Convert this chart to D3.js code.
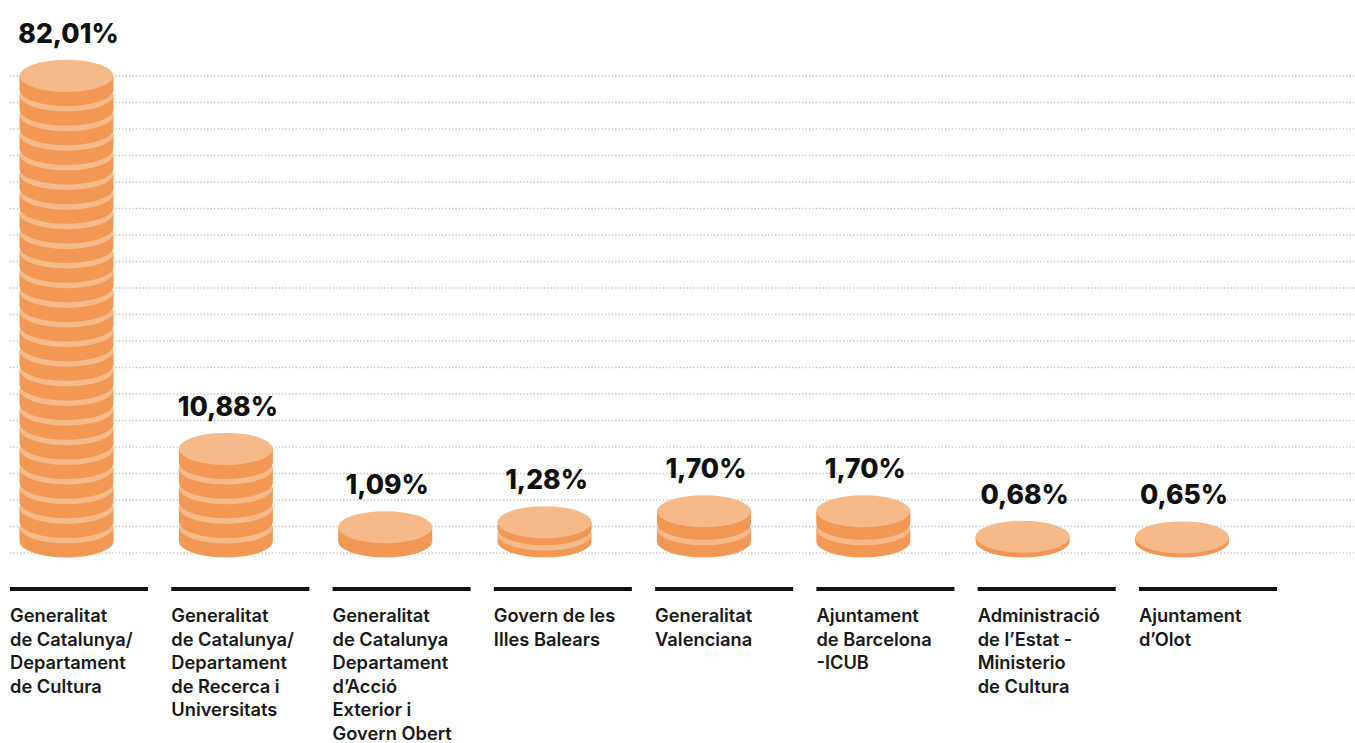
<!DOCTYPE html>
<html>
<head>
<meta charset="utf-8">
<script src="https://cdn.jsdelivr.net/npm/d3@7"></script>
<style>
  html, body { margin: 0; padding: 0; background: #fff; }
  svg { display: block; }
  text { font-family: Inter, 'Noto Sans', sans-serif; }
</style>
</head>
<body>
<div id="vis"></div>
<script>
// data
var categories = ['gencat-cultura', 'gencat-recerca', 'gencat-accio', 'balears', 'valenciana', 'bcn-icub', 'estat', 'olot'];
var labels = [
  ['Generalitat', 'de Catalunya/', 'Departament', 'de Cultura'],
  ['Generalitat', 'de Catalunya/', 'Departament', 'de Recerca i', 'Universitats'],
  ['Generalitat', 'de Catalunya', 'Departament', 'd’Acció', 'Exterior i', 'Govern Obert'],
  ['Govern de les', 'Illes Balears'],
  ['Generalitat', 'Valenciana'],
  ['Ajuntament', 'de Barcelona', '-ICUB'],
  ['Administració', 'de l’Estat -', 'Ministerio', 'de Cultura'],
  ['Ajuntament', 'd’Olot']
];
var values = [82.01, 10.88, 1.09, 1.28, 1.70, 1.70, 0.68, 0.65];
var valueLabels = ['82,01%', '10,88%', '1,09%', '1,28%', '1,70%', '1,70%', '0,68%', '0,65%'];
var coins = [24, 5, 1, 2, 2, 2, 1, 1];

var width = 1355;
var height = 743;

var lightColor = '#f6b989';
var darkColor = '#f29854';

var rx = 47;
var ry = 16;
var gap = 5.5;
var baseY = 541.5; // centre of the lowest coin's bottom edge

var svg = d3.select('#vis').append('svg')
  .attr('width', width)
  .attr('height', height);

// dotted gridlines
var gridY = d3.scaleLinear().domain([0, 18]).range([553, 76]);
svg.append('g')
  .selectAll('line')
  .data(d3.range(19))
  .enter()
  .append('line')
  .attr('x1', 10)
  .attr('x2', width)
  .attr('y1', (d) => gridY(d))
  .attr('y2', (d) => gridY(d))
  .attr('stroke', '#c4c4c4')
  .attr('stroke-width', 1.3)
  .attr('stroke-dasharray', '1.3 2.1');

// rules + labels
var x = d3.scaleBand()
  .domain(categories)
  .range([10, 1277])
  .paddingInner(0.144)
  .paddingOuter(0);

// coin stack centres
var xc = d3.scalePoint()
  .domain(categories)
  .range([66.5, 1182]);

// broken scale: stack side height in px for a value
var stackScale = d3.scaleLinear()
  .domain([0.6, 1, 2, 10, 100])
  .range([3, 12, 38, 88, 560]);

var rows = categories.map((c, i) => ({
  key: c,
  value: values[i],
  valueLabel: valueLabels[i],
  coins: coins[i],
  label: labels[i]
}));

var stacks = svg.append('g')
  .selectAll('g.stack')
  .data(rows)
  .enter()
  .append('g')
  .attr('class', 'stack');

stacks.each(function (d) {
  var g = d3.select(this);
  var cx = xc(d.key);
  var side = stackScale(d.value);
  var n = d.coins;
  var h = (side - (n - 1) * gap) / n;
  var step = h + gap;

  for (var i = 0; i < n; i++) {
    var botY = baseY - i * step;
    var topY = botY - h;
    g.append('path')
      .attr('d', 'M' + (cx - rx) + ',' + topY +
        'L' + (cx - rx) + ',' + botY +
        'A' + rx + ',' + ry + ' 0 0 0 ' + (cx + rx) + ',' + botY +
        'L' + (cx + rx) + ',' + topY + 'Z')
      .attr('fill', darkColor);
    g.append('ellipse')
      .attr('cx', cx)
      .attr('cy', topY)
      .attr('rx', rx)
      .attr('ry', ry)
      .attr('fill', lightColor);
  }

  var stackTop = baseY - side - ry;
  g.append('text')
    .attr('x', cx + 2)
    .attr('y', stackTop - 17)
    .attr('text-anchor', 'middle')
    .attr('font-size', 26.5)
    .attr('font-weight', 800)
    .attr('fill', '#111')
    .text(d.valueLabel);

  // black rule under each category
  g.append('rect')
    .attr('x', x(d.key))
    .attr('y', 587)
    .attr('width', x.bandwidth())
    .attr('height', 4)
    .attr('fill', '#111');

  var t = g.append('text')
    .attr('x', x(d.key))
    .attr('y', 622)
    .attr('font-size', 18.3)
    .attr('font-weight', 600)
    .attr('fill', '#1a1a1a');
  t.selectAll('tspan')
    .data(d.label)
    .enter()
    .append('tspan')
    .attr('x', x(d.key))
    .attr('dy', (l, j) => (j === 0 ? 0 : 23.5))
    .text((l) => l);
});
</script>
</body>
</html>
